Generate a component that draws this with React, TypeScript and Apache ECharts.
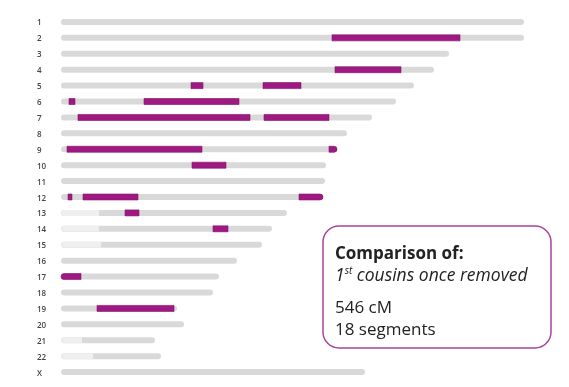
import React, { useEffect, useRef } from "react";
import * as echarts from "echarts";

const chromosomes = ["1","2","3","4","5","6","7","8","9","10","11","12","13","14","15","16","17","18","19","20","21","22","X"];
// chromosome lengths (chart units)
const lengths = [463, 463, 388, 373, 353, 335, 311, 286, 276, 265, 264, 262, 226, 211, 201, 176, 158, 152, 116, 123, 94, 100, 304];
// untested (light) region at the start of some chromosomes: [chromosome index, end]
const untested: [number, number][] = [[12, 38], [13, 38], [14, 40], [20, 21], [21, 32]];
// shared segments: [chromosome index, start, end]
const segments: [number, number, number][] = [
  [1, 271, 399],
  [3, 274, 340],
  [4, 130, 142], [4, 202, 240],
  [5, 8, 14], [5, 83, 178],
  [6, 17, 189], [6, 203, 268],
  [8, 6, 141], [8, 268, 276],
  [9, 131, 165],
  [11, 7, 11], [11, 22, 77], [11, 238, 262],
  [12, 64, 78],
  [13, 152, 167],
  [16, 0, 20],
  [18, 36, 113],
];
const boxTitle = "Comparison of:";
const boxRelation = ["1", "st", " cousins once removed"];
const boxCM = "546 cM";
const boxSegments = "18 segments";

export default function App() {
  const ref = useRef<HTMLDivElement>(null);
  useEffect(() => {
    if (!ref.current) return;
    const chart = echarts.init(ref.current, null, { renderer: "svg" });
    const data: any[] = [];
    lengths.forEach((len, i) => data.push([i, 0, len, 0]));
    untested.forEach(([i, e]) => data.push([i, 0, e, 1]));
    segments.forEach(([i, s, e]) => data.push([i, s, e, 2]));
    const font = "'Open Sans', sans-serif";
    chart.setOption({
      animation: false,
      grid: { left: 61, right: 45, top: 14, bottom: 7 },
      xAxis: { type: "value", min: 0, max: 463, show: false },
      yAxis: {
        type: "category",
        data: chromosomes,
        inverse: true,
        axisLine: { show: false },
        axisTick: { show: false },
        splitLine: { show: false },
        axisLabel: { fontSize: 8, color: "#444", align: "left", margin: 24, fontFamily: "'Open Sans', sans-serif", fontWeight: 600 },
      },
      series: [
        {
          type: "custom",
          data,
          encode: { x: [1, 2], y: 0 },
          renderItem: (params: any, api: any) => {
            const cat = api.value(0);
            const s0 = api.value(1);
            const e0 = api.value(2);
            const kind = api.value(3);
            const a = api.coord([s0, cat]);
            const b = api.coord([e0, cat]);
            const h = 6;
            const R = 3;
            const len = lengths[cat];
            let r: number[] = [R, R, R, R];
            let fill = "#d9d9d9";
            let stroke: any = null;
            if (kind === 1) {
              r = [R, 0, 0, R];
              fill = "#efefef";
            } else if (kind === 2) {
              const l = s0 <= 0 ? R : 0;
              const rr = e0 >= len ? R : 0;
              r = [l, rr, rr, l];
              fill = "#9e1a82";
              stroke = "#86106c";
            }
            return {
              type: "rect",
              shape: { x: a[0], y: a[1] - h / 2, width: b[0] - a[0], height: h, r },
              style: stroke ? { fill, stroke, lineWidth: 0.6 } : { fill },
            };
          },
        },
      ],
      graphic: [
        {
          type: "rect",
          shape: { x: 323, y: 226, width: 228, height: 122, r: 16 },
          style: { fill: "#fff", stroke: "#a8449a", lineWidth: 1.5 },
        },
        {
          type: "text",
          x: 335, y: 252,
          style: { text: boxTitle, font: `bold 17px ${font}`, fill: "#222", verticalAlign: "middle" },
        },
        {
          type: "text",
          x: 335, y: 274,
          style: {
            text: `{a|${boxRelation[0]}}{b|${boxRelation[1]}}{a|${boxRelation[2]}}`,
            verticalAlign: "middle",
            rich: {
              a: { font: `italic 17.5px ${font}`, fill: "#222", lineHeight: 18 },
              b: { font: `italic 10px ${font}`, fill: "#222", lineHeight: 18, verticalAlign: "top", padding: [0, 0, 4, 0] },
            },
          },
        },
        {
          type: "text",
          x: 335, y: 306,
          style: { text: boxCM, font: `17px ${font}`, fill: "#222", verticalAlign: "middle" },
        },
        {
          type: "text",
          x: 335, y: 328,
          style: { text: boxSegments, font: `17px ${font}`, fill: "#222", verticalAlign: "middle" },
        },
      ],
    });
    return () => chart.dispose();
  }, []);
  return <div ref={ref} style={{ position: "fixed", left: 0, top: 0, width: 569, height: 387 }} />;
}
